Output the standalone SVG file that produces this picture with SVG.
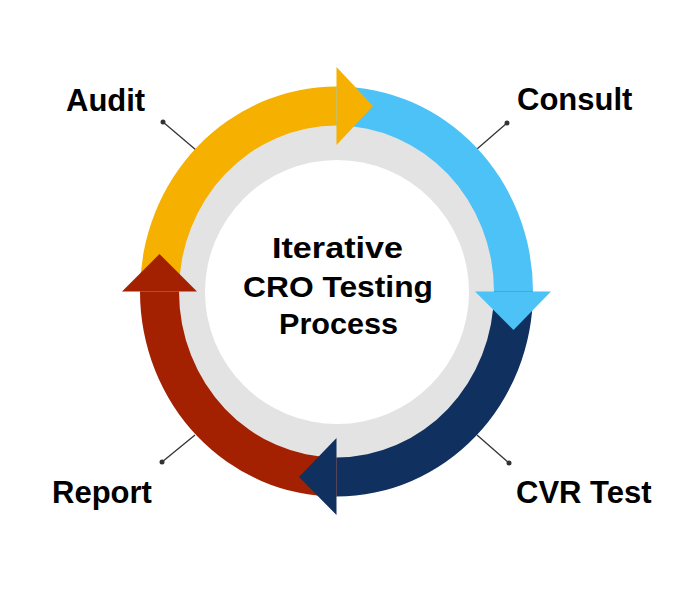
<svg xmlns="http://www.w3.org/2000/svg" width="700" height="596" viewBox="0 0 700 596">
  <defs>
    <style>
      .lbl { font-family: "Liberation Sans", Arial, sans-serif; font-weight: bold; font-size: 31px; fill: #000; }
      .ctr { font-family: "Liberation Sans", Arial, sans-serif; font-weight: bold; font-size: 30px; fill: #000; }
      .conn { stroke: #333; stroke-width: 1.3; fill: none; }
      .dot { fill: #333; }
    </style>
  </defs>
  <rect width="700" height="596" fill="#fff"/>

  <g id="ring">
    <ellipse cx="336.5" cy="291.5" rx="161" ry="169" fill="#e3e3e3"/>
    <circle cx="337" cy="292" r="132" fill="#fff"/>
  </g>

  <g id="connectors">
    <line class="conn" x1="163" y1="122" x2="196" y2="150"/>
    <circle class="dot" cx="163" cy="122" r="2.5"/>
    <line class="conn" x1="507" y1="123" x2="477" y2="149"/>
    <circle class="dot" cx="507" cy="123" r="2.5"/>
    <line class="conn" x1="162" y1="462" x2="195" y2="435"/>
    <circle class="dot" cx="162" cy="462" r="2.5"/>
    <line class="conn" x1="509" y1="463" x2="477" y2="435"/>
    <circle class="dot" cx="509" cy="463" r="2.5"/>
  </g>

  <g id="shafts">
    <path id="audit-shaft" fill="#f5b000" d="M140 291.5 A196.5 205 0 0 1 336.5 86.5 L336.5 125.5 A157.5 166 0 0 0 179 291.5 Z"/>
    <path id="consult-shaft" fill="#4dc2f6" d="M336.5 86.5 A196.5 205 0 0 1 533 291.5 L494 291.5 A157.5 166 0 0 0 336.5 125.5 Z"/>
    <path id="cvr-shaft" fill="#10305f" d="M533 291.5 A196.5 205 0 0 1 336.5 496.5 L336.5 457.5 A157.5 166 0 0 0 494 291.5 Z"/>
    <path id="report-shaft" fill="#a32100" d="M336.5 496.5 A196.5 205 0 0 1 140 291.5 L179 291.5 A157.5 166 0 0 0 336.5 457.5 Z"/>
  </g>

  <g id="node-audit">
    <polygon fill="#f5b000" points="336.5,67 373,106 336.5,145"/>
    <text class="lbl" x="66" y="111">Audit</text>
  </g>
  <g id="node-consult">
    <polygon fill="#4dc2f6" points="475,291.5 551,291.5 513.5,330"/>
    <text class="lbl" x="517" y="110">Consult</text>
  </g>
  <g id="node-cvr">
    <polygon fill="#10305f" points="336.5,438 336.5,515 299,477"/>
    <text class="lbl" x="516" y="503">CVR Test</text>
  </g>
  <g id="node-report">
    <polygon fill="#a32100" points="122,291.5 197,291.5 159.5,254"/>
    <text class="lbl" x="52" y="503">Report</text>
  </g>

  <g id="center">
    <text class="ctr" x="272" y="258" textLength="131" lengthAdjust="spacingAndGlyphs">Iterative</text>
    <text class="ctr" x="243" y="297" textLength="190" lengthAdjust="spacingAndGlyphs">CRO Testing</text>
    <text class="ctr" x="279" y="334" textLength="119" lengthAdjust="spacingAndGlyphs">Process</text>
  </g>
</svg>
